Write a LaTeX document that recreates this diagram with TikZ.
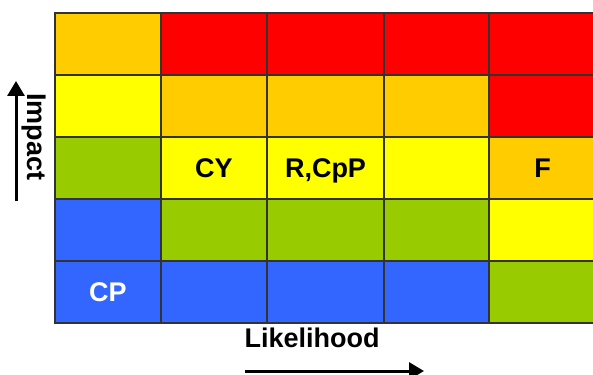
\documentclass[tikz,border=0pt]{standalone}
\usepackage{fontspec}
\setmainfont{Liberation Sans}
\definecolor{riskred}{HTML}{FF0000}
\definecolor{riskorange}{HTML}{FFCC00}
\definecolor{riskyellow}{HTML}{FFFF00}
\definecolor{riskgreen}{HTML}{99CC00}
\definecolor{riskblue}{HTML}{3366FF}
\definecolor{gridline}{HTML}{333333}
\tikzset{
  cell/.style={draw=gridline, line width=1.5pt, minimum height=62pt, inner sep=0pt},
  lbl/.style={font=\fontsize{27}{32}\selectfont\bfseries, text depth=0pt},
  axis/.style={line width=3pt, -{Triangle[length=15pt,width=17pt]}}
}
\usetikzlibrary{arrows.meta}
\begin{document}
\begin{tikzpicture}[x=1pt, y=-1pt]
	\useasboundingbox (0,0) rectangle (593,374);
	% row 1
	\node[cell, fill=riskorange, minimum width=106pt] (r1c1) at (108, 44) {};
	\node[cell, fill=riskred, minimum width=106pt] (r1c2) at (214, 44) {};
	\node[cell, fill=riskred, minimum width=117pt] (r1c3) at (325.5, 44) {};
	\node[cell, fill=riskred, minimum width=105pt] (r1c4) at (436.5, 44) {};
	\node[cell, fill=riskred, minimum width=107pt] (r1c5) at (542.5, 44) {};
	% row 2
	\node[cell, fill=riskyellow, minimum width=106pt] (r2c1) at (108, 106) {};
	\node[cell, fill=riskorange, minimum width=106pt] (r2c2) at (214, 106) {};
	\node[cell, fill=riskorange, minimum width=117pt] (r2c3) at (325.5, 106) {};
	\node[cell, fill=riskorange, minimum width=105pt] (r2c4) at (436.5, 106) {};
	\node[cell, fill=riskred, minimum width=107pt] (r2c5) at (542.5, 106) {};
	% row 3
	\node[cell, fill=riskgreen, minimum width=106pt] (r3c1) at (108, 168) {};
	\node[cell, fill=riskyellow, minimum width=106pt, lbl] (r3c2) at (214, 168) {CY};
	\node[cell, fill=riskyellow, minimum width=117pt, lbl] (r3c3) at (325.5, 168) {R,CpP};
	\node[cell, fill=riskyellow, minimum width=105pt] (r3c4) at (436.5, 168) {};
	\node[cell, fill=riskorange, minimum width=107pt, lbl] (r3c5) at (542.5, 168) {F};
	% row 4
	\node[cell, fill=riskblue, minimum width=106pt] (r4c1) at (108, 230) {};
	\node[cell, fill=riskgreen, minimum width=106pt] (r4c2) at (214, 230) {};
	\node[cell, fill=riskgreen, minimum width=117pt] (r4c3) at (325.5, 230) {};
	\node[cell, fill=riskgreen, minimum width=105pt] (r4c4) at (436.5, 230) {};
	\node[cell, fill=riskyellow, minimum width=107pt] (r4c5) at (542.5, 230) {};
	% row 5
	\node[cell, fill=riskblue, minimum width=106pt, lbl, text=white] (r5c1) at (108, 292) {CP};
	\node[cell, fill=riskblue, minimum width=106pt] (r5c2) at (214, 292) {};
	\node[cell, fill=riskblue, minimum width=117pt] (r5c3) at (325.5, 292) {};
	\node[cell, fill=riskblue, minimum width=105pt] (r5c4) at (436.5, 292) {};
	\node[cell, fill=riskgreen, minimum width=107pt] (r5c5) at (542.5, 292) {};

	% axes
	\node[lbl, rotate=-90] (impact) at (37, 137) {Impact};
	\node[lbl] (likelihood) at (312, 338) {Likelihood};
	\coordinate (ilow) at (16, 201);
	\coordinate (ihigh) at (16, 81);
	\coordinate (lleft) at (245, 371);
	\coordinate (lright) at (424, 371);
	\draw[axis] (ilow) to (ihigh);
	\draw[axis] (lleft) to (lright);
\end{tikzpicture}
\end{document}
